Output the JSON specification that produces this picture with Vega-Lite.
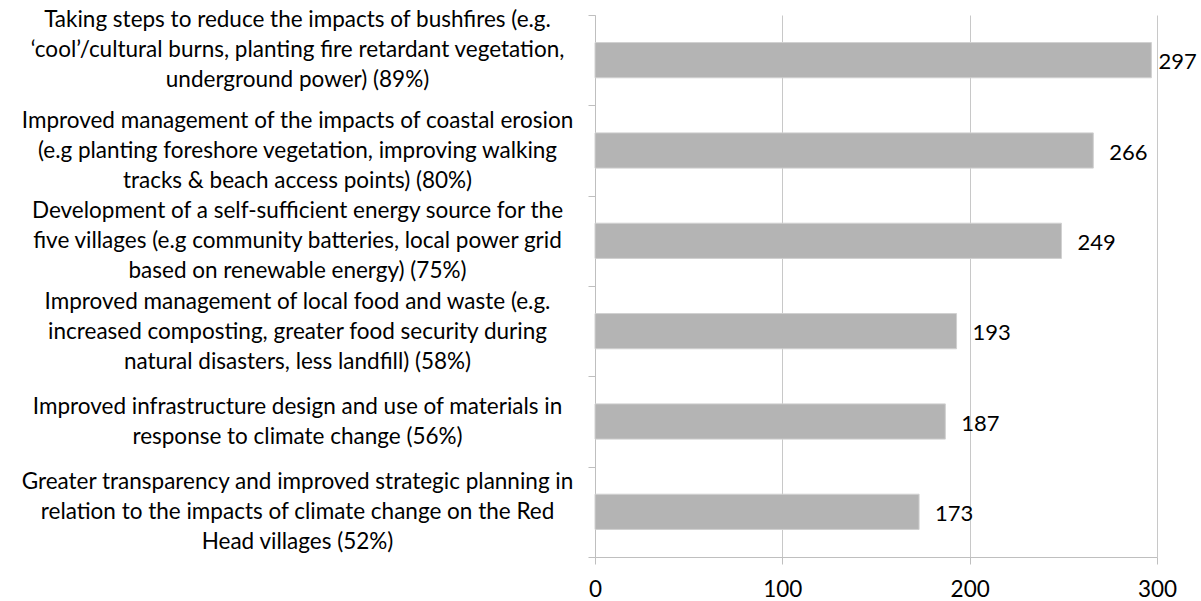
{
  "$schema": "https://vega.github.io/schema/vega-lite/v6.json",
  "width": 562,
  "height": 542,
  "autosize": {"type": "none"},
  "padding": {"left": 595, "top": 15, "right": 44, "bottom": 44},
  "background": "white",
  "config": {"view": {"stroke": null}, "font": "Lato"},
  "data": {
    "values": [
      {"item": "Taking steps to reduce the impacts of bushfires (e.g.|‘cool’/cultural burns, planting fire retardant vegetation,|underground power) (89%)", "count": 297},
      {"item": "Improved management of the impacts of coastal erosion|(e.g planting foreshore vegetation, improving walking|tracks & beach access points) (80%)", "count": 266},
      {"item": "Development of a self-sufficient energy source for the|five villages (e.g community batteries, local power grid|based on renewable energy) (75%)", "count": 249},
      {"item": "Improved management of local food and waste (e.g.|increased composting, greater food security during|natural disasters, less landfill) (58%)", "count": 193},
      {"item": "Improved infrastructure design and use of materials in|response to climate change (56%)", "count": 187},
      {"item": "Greater transparency and improved strategic planning in|relation to the impacts of climate change on the Red|Head villages (52%)", "count": 173}
    ]
  },
  "encoding": {
    "y": {
      "field": "item",
      "type": "nominal",
      "sort": null,
      "title": null,
      "scale": {"paddingInner": 0, "paddingOuter": 0},
      "axis": {
        "labelExpr": "isValid(datum.value) && datum.value !== '' ? split(datum.value, '|') : ''",
        "labelAlign": "center",
        "labelBaseline": "middle",
        "labelPadding": 291,
        "labelFont": "Lato",
        "labelFontSize": 22.5,
        "labelLineHeight": 30,
        "labelColor": "#000000",
        "labelLimit": 0,
        "labelBound": false,
        "labelOverlap": false,
        "labelOffset": {"condition": [
          {"test": "isValid(datum.value) && indexof(datum.value, 'Taking') === 0", "value": -41},
          {"test": "isValid(datum.value) && indexof(datum.value, 'Improved infrastructure') === 0", "value": -15}
        ], "value": -30},
        "tickBand": "extent",
        "tickSize": 7,
        "tickColor": "#bfbfbf",
        "domainColor": "#bfbfbf",
        "grid": false
      }
    },
    "x": {
      "field": "count",
      "type": "quantitative",
      "title": null,
      "scale": {"domain": [0, 300], "nice": false},
      "axis": {
        "values": [0, 100, 200, 300],
        "grid": true,
        "gridColor": "#c8c8c8",
        "domainColor": "#bfbfbf",
        "tickColor": "#bfbfbf",
        "tickSize": 7,
        "labelPadding": 14,
        "labelFont": "Lato",
        "labelFontSize": 22.5,
        "labelColor": "#000000",
        "labelFlush": false
      }
    }
  },
  "layer": [
    {"mark": {"type": "bar", "color": "#b4b4b4", "stroke": "#d0d0d0", "strokeWidth": 1, "height": {"band": 0.39}}},
    {
      "transform": [{"filter": "datum.count <= 290"}],
      "mark": {"type": "text", "align": "left", "baseline": "middle", "font": "Lato", "fontSize": 22, "color": "#000000", "dy": 2, "dx": 16},
      "encoding": {"text": {"field": "count", "type": "quantitative"}}
    },
    {
      "transform": [{"filter": "datum.count > 290"}],
      "mark": {"type": "text", "align": "left", "baseline": "middle", "font": "Lato", "fontSize": 22, "color": "#000000", "dy": 2, "dx": 7},
      "encoding": {"text": {"field": "count", "type": "quantitative"}}
    }
  ]
}
